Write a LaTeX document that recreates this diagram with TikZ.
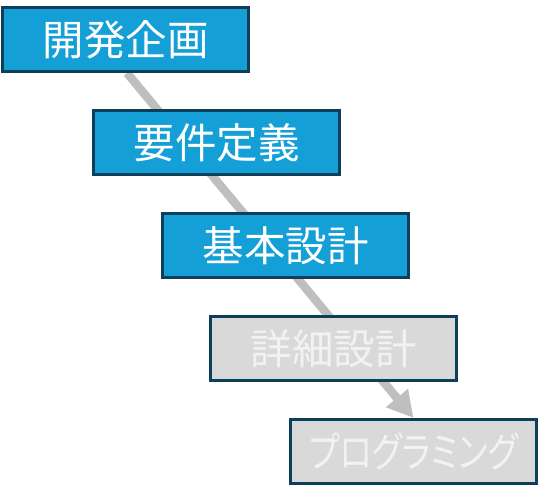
\documentclass[tikz,border=0pt]{standalone}
\usepackage{fontspec}
\newfontfamily\jp{Noto Sans CJK JP}[CharacterWidth=AlternateProportional]
\usetikzlibrary{arrows.meta, positioning, backgrounds}
\definecolor{edge}{HTML}{0E3F5A}
\definecolor{blueA}{HTML}{149FD7}
\definecolor{done}{HTML}{D9D9D9}
\definecolor{flowC}{HTML}{BFBFBF}

\begin{document}
\begin{tikzpicture}[
  font=\jp\fontsize{41.5pt}{48pt}\selectfont,
  phase/.style={draw=edge, line width=3pt, fill=blueA, text=white,
           minimum width=246pt, minimum height=64pt, inner sep=0pt},
  later/.style={phase, fill=done, text=white!95!black},
  flow/.style={-{Triangle[length=26pt, width=27pt]}, line width=8.5pt, color=flowC}
]
  \useasboundingbox (0,0) rectangle (544pt,-502pt);

  \node[phase] (kikaku) at (125.5pt,-39.5pt) {開発企画};
  \node[phase] (youken) [below=36pt of kikaku.south west, anchor=north west, xshift=91pt] {要件定義};
  \node[phase] (kihon)  [below=36pt of youken.south west, anchor=north west, xshift=69pt] {基本設計};
  \node[later] (shosai) [below=36pt of kihon.south west, anchor=north west, xshift=48pt] {詳細設計};
  \node[later] (prog)   [below=36pt of shosai.south west, anchor=north west, xshift=80pt] {\scalebox{0.8}[1]{プログラミング}};

  \begin{scope}[on background layer]
    \draw[flow] ([xshift=1.5pt]kikaku.south) -- (prog.north);
  \end{scope}
\end{tikzpicture}
\end{document}
